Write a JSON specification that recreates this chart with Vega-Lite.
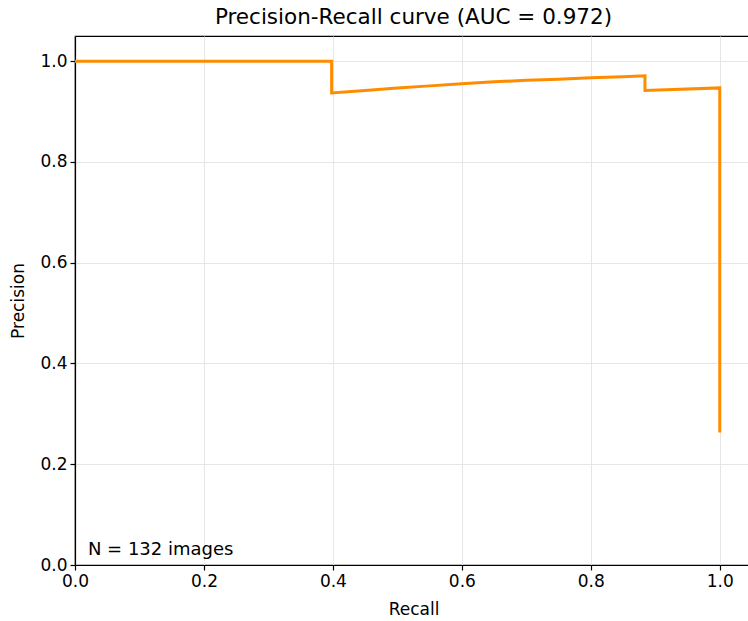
{
  "$schema": "https://vega.github.io/schema/vega-lite/v6.json",
  "width": 677,
  "height": 529,
  "autosize": "none",
  "padding": {"left": 75, "top": 36, "right": 0, "bottom": 56},
  "background": "white",
  "config": {
    "font": "DejaVu Sans",
    "view": {"stroke": "black", "strokeWidth": 1.2},
    "axis": {
      "labelFont": "DejaVu Sans", "labelFontSize": 17, "labelColor": "black", "labelFlush": false,
      "titleFont": "DejaVu Sans", "titleFontSize": 17, "titleFontWeight": "normal", "titleColor": "black",
      "domainColor": "black", "domainWidth": 1.2, "tickColor": "black", "tickSize": 5, "tickWidth": 1.2,
      "gridColor": "#e6e6e6", "gridWidth": 1, "labelPadding": 3
    }
  },
  "title": {"text": "Precision-Recall curve (AUC = 0.972)", "font": "DejaVu Sans", "fontSize": 21.5, "fontWeight": "normal", "color": "black", "offset": 8},
  "layer": [
    {
      "data": {"values": [
        {"i": 0, "recall": 0.0, "precision": 1.0},
        {"i": 1, "recall": 0.398, "precision": 1.0},
        {"i": 2, "recall": 0.398, "precision": 0.937},
        {"i": 3, "recall": 0.45, "precision": 0.942},
        {"i": 4, "recall": 0.5, "precision": 0.947},
        {"i": 5, "recall": 0.55, "precision": 0.951},
        {"i": 6, "recall": 0.6, "precision": 0.955},
        {"i": 7, "recall": 0.65, "precision": 0.959},
        {"i": 8, "recall": 0.7, "precision": 0.962},
        {"i": 9, "recall": 0.75, "precision": 0.964},
        {"i": 10, "recall": 0.8, "precision": 0.967},
        {"i": 11, "recall": 0.85, "precision": 0.969},
        {"i": 12, "recall": 0.884, "precision": 0.971},
        {"i": 13, "recall": 0.884, "precision": 0.942},
        {"i": 14, "recall": 1.0, "precision": 0.947},
        {"i": 15, "recall": 1.0, "precision": 0.263}
      ]},
      "mark": {"type": "line", "color": "#ff8c00", "strokeWidth": 3, "strokeJoin": "miter", "strokeCap": "butt"},
      "encoding": {
        "x": {"field": "recall", "type": "quantitative", "title": "Recall",
              "scale": {"domain": [0, 1.05], "nice": false, "zero": false},
              "axis": {"values": [0, 0.2, 0.4, 0.6, 0.8, 1.0], "format": ".1f", "titlePadding": 12}},
        "y": {"field": "precision", "type": "quantitative", "title": "Precision",
              "scale": {"domain": [0, 1.05], "nice": false, "zero": false},
              "axis": {"values": [0, 0.2, 0.4, 0.6, 0.8, 1.0], "format": ".1f", "titlePadding": 12}},
        "order": {"field": "i", "type": "quantitative"}
      }
    },
    {
      "data": {"values": [{"recall": 0.02, "precision": 0.012, "label": "N = 132 images"}]},
      "mark": {"type": "text", "align": "left", "baseline": "bottom", "font": "DejaVu Sans", "fontSize": 18, "color": "black"},
      "encoding": {
        "x": {"field": "recall", "type": "quantitative"},
        "y": {"field": "precision", "type": "quantitative"},
        "text": {"field": "label"}
      }
    }
  ]
}
